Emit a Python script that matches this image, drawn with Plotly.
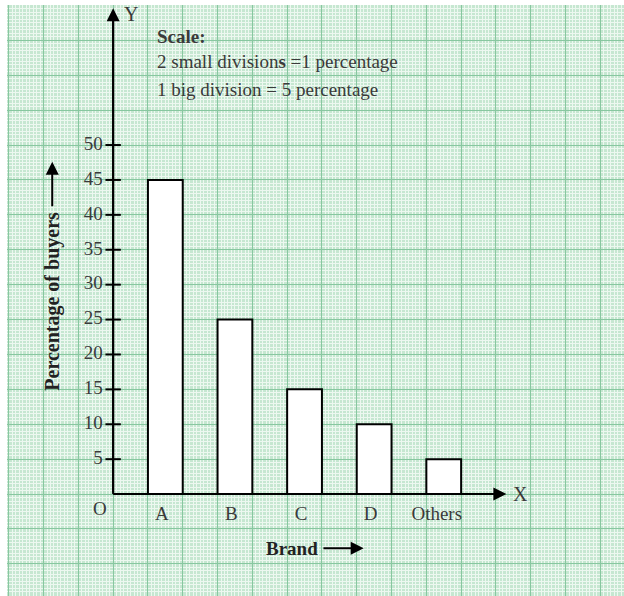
import plotly.graph_objects as go

brands = ["A", "B", "C", "D", "Others"]
buyers_pct = [45, 25, 15, 10, 5]
brand_pos = [1.5, 3.5, 5.5, 7.5, 9.5]
label_pos = [1.4, 3.4, 5.4, 7.4, 9.3]
y_ticks = [5, 10, 15, 20, 25, 30, 35, 40, 45, 50]

FONT = "Liberation Serif"
TXT = "#3a3a3a"

fig = go.Figure()

# bars
fig.add_trace(go.Bar(
    x=brand_pos, y=buyers_pct, width=1,
    marker=dict(color="white", line=dict(color="black", width=2)),
    hoverinfo="skip", showlegend=False,
))

# y tick marks on the axis
fig.add_trace(go.Scatter(
    x=[0] * len(y_ticks), y=y_ticks, mode="markers",
    marker=dict(symbol="line-ew", size=11, line=dict(color="black", width=2)),
    hoverinfo="skip", showlegend=False,
))
# y tick labels
fig.add_trace(go.Scatter(
    x=[-0.3] * len(y_ticks), y=y_ticks, mode="text",
    text=[str(v) for v in y_ticks], textposition="middle left",
    textfont=dict(family=FONT, size=19, color=TXT),
    hoverinfo="skip", showlegend=False,
))
# x category labels
fig.add_trace(go.Scatter(
    x=label_pos, y=[-3.0] * len(brands), mode="text",
    text=brands, textposition="middle center",
    textfont=dict(family=FONT, size=19, color=TXT),
    hoverinfo="skip", showlegend=False,
))

ann = []
arrow = dict(showarrow=True, arrowhead=2, arrowsize=1.3, arrowwidth=2, arrowcolor="black", text="",
             xref="x", yref="y", axref="x", ayref="y")
# axes with arrows
ann.append(dict(x=0, y=69.6, ax=0, ay=0, **arrow))
ann.append(dict(x=11.3, y=0, ax=0, ay=0, **arrow))
# axis letters
ann.append(dict(x=0.5, y=68.7, xref="x", yref="y", text="Y", showarrow=False,
                font=dict(family=FONT, size=20, color=TXT)))
ann.append(dict(x=11.7, y=0, xref="x", yref="y", text="X", showarrow=False,
                font=dict(family=FONT, size=20, color=TXT)))
ann.append(dict(x=-0.37, y=-2.1, xref="x", yref="y", text="O", showarrow=False,
                font=dict(family=FONT, size=19, color=TXT)))
# scale text
ann.append(dict(x=1.2, y=65.6, xref="x", yref="y", text="<b>Scale:</b>", showarrow=False,
                xanchor="left", font=dict(family=FONT, size=19, color=TXT)))
ann.append(dict(x=1.2, y=61.9, xref="x", yref="y", text="2 small division<b>s</b> =1 percentage",
                showarrow=False, xanchor="left", font=dict(family=FONT, size=19, color=TXT)))
ann.append(dict(x=1.2, y=57.9, xref="x", yref="y", text="1 big division = 5 percentage",
                showarrow=False, xanchor="left", font=dict(family=FONT, size=19, color=TXT)))
# y title with arrow
ann.append(dict(x=-1.75, y=27.6, xref="x", yref="y", text="<b>Percentage of buyers</b>",
                showarrow=False, textangle=-90, font=dict(family=FONT, size=20, color="#222222")))
ann.append(dict(x=-1.75, y=47.6, ax=-1.75, ay=41.0, **arrow))
# x title with arrow
ann.append(dict(x=5.14, y=-7.75, xref="x", yref="y", text="<b>Brand</b>",
                showarrow=False, font=dict(family=FONT, size=19, color="#222222")))
ann.append(dict(x=7.2, y=-7.75, ax=6.0, ay=-7.75, **arrow))

MAJOR = "#88c7a0"
MINOR = "#edf8f0"
fig.update_layout(
    width=624, height=596,
    margin=dict(l=7, r=0, t=5, b=0),
    paper_bgcolor="white",
    plot_bgcolor="#c6e7d1",
    annotations=ann,
    showlegend=False,
    xaxis=dict(range=[-3.05, 14.68], tick0=0, dtick=1, showgrid=True, gridcolor=MAJOR, gridwidth=1.3,
               minor=dict(tick0=0, dtick=0.1, showgrid=True, gridcolor=MINOR, gridwidth=1),
               showticklabels=False, zeroline=False, showline=False, ticks="", fixedrange=True),
    yaxis=dict(range=[-14.6, 70.06], tick0=0, dtick=5, showgrid=True, gridcolor=MAJOR, gridwidth=1.3,
               minor=dict(tick0=0, dtick=0.5, showgrid=True, gridcolor=MINOR, gridwidth=1),
               showticklabels=False, zeroline=False, showline=False, ticks="", fixedrange=True),
)
# solid axis lines from origin
fig.add_trace(go.Scatter(x=[0, 0], y=[0, 68], mode="lines", line=dict(color="black", width=2),
                         hoverinfo="skip", showlegend=False))
fig.add_trace(go.Scatter(x=[0, 11], y=[0, 0], mode="lines", line=dict(color="black", width=2),
                         hoverinfo="skip", showlegend=False))

fig.write_html("out.html", config={"displayModeBar": False},
               post_script="document.body.style.margin='0';document.body.style.overflow='hidden';")
